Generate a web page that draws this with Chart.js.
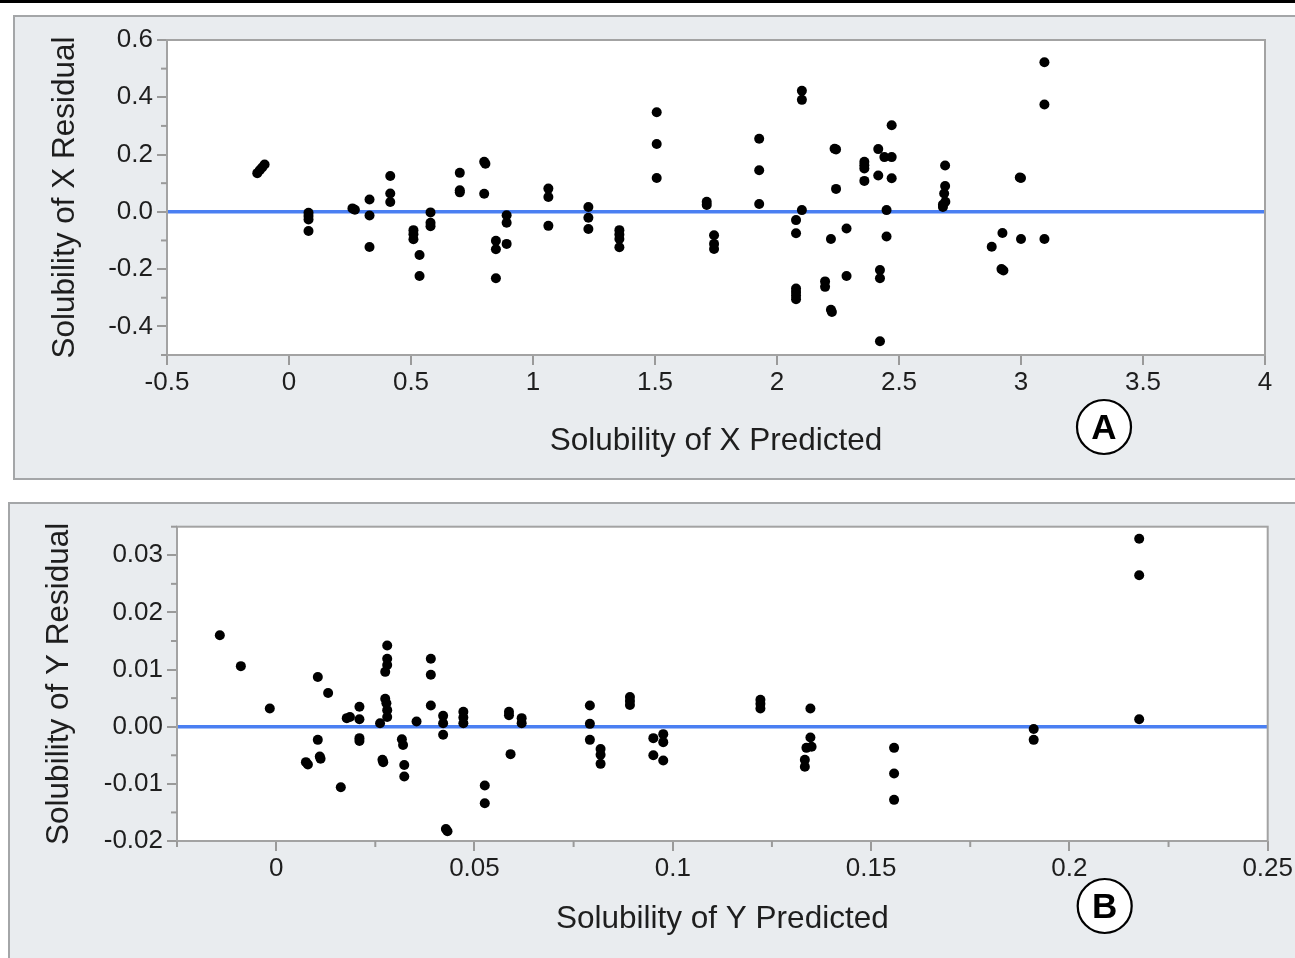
<!DOCTYPE html>
<html><head><meta charset="utf-8">
<script src="https://cdn.jsdelivr.net/npm/chart.js@4"></script>
<style>
html,body{margin:0;padding:0;background:#fff;width:1295px;height:958px;overflow:hidden;position:relative}
#topline{position:absolute;left:0;top:0;width:1295px;height:3px;background:#000}
.panel{position:absolute;background:#e9ecef;border:2px solid #a4a6a8;box-sizing:border-box}
#pA{left:13px;top:15px;width:1300px;height:465px}
#pB{left:8px;top:502px;width:1300px;height:470px}
canvas{position:absolute;left:0}
#cA{top:0}
#cB{top:480px}
</style></head><body>
<div id="topline"></div>
<div class="panel" id="pA"></div>
<div class="panel" id="pB"></div>
<canvas id="cA" width="1295" height="480"></canvas>
<canvas id="cB" width="1295" height="478"></canvas>
<script>
// ---------- DATA: panel A (Solubility of X) ----------
const xPredA = [-0.13,-0.12,-0.11,-0.10, 0.08,0.08,0.08,0.08, 0.26,0.27, 0.33,0.33,0.33,
  0.415,0.415,0.415, 0.51,0.51,0.51,0.535,0.535, 0.58,0.58,0.58, 0.70,0.70,0.70,
  0.80,0.805,0.80, 0.848,0.848,0.848, 0.892,0.892,0.892, 1.063,1.063,1.063,
  1.227,1.227,1.227, 1.354,1.354,1.354,1.354, 1.507,1.507,1.507, 1.712,1.712,
  1.742,1.742,1.742, 1.927,1.927,1.927, 2.078,2.078,2.078,2.078,2.078,2.078,
  2.102,2.102,2.102, 2.197,2.197, 2.221,2.221,2.225, 2.242,2.236,2.242, 2.285,2.285,
  2.358,2.358,2.358,2.358, 2.415,2.415, 2.422,2.422,2.422, 2.44,2.47,2.47,2.449,2.449,2.47,
  2.689,2.689,2.685,2.69,2.68,2.68, 2.88, 2.924,2.92,2.928, 3.0,2.995,3.0, 3.096,3.096,3.096];
const yResA = [0.135,0.145,0.155,0.165, -0.003,-0.015,-0.027,-0.067, 0.012,0.007, 0.043,-0.013,-0.123,
  0.125,0.064,0.034, -0.064,-0.078,-0.096,-0.151,-0.224, -0.002,-0.038,-0.05, 0.136,0.075,0.068,
  0.175,0.168,0.063, -0.101,-0.131,-0.232, -0.012,-0.038,-0.112, 0.081,0.052,-0.049,
  0.017,-0.021,-0.06, -0.064,-0.079,-0.095,-0.124, 0.348,0.237,0.118, 0.035,0.024,
  -0.082,-0.112,-0.13, 0.255,0.145,0.027, -0.029,-0.075,-0.268,-0.28,-0.292,-0.305,
  0.423,0.391,0.006, -0.243,-0.262, -0.095,-0.342,-0.35, 0.218,0.22,0.08, -0.058,-0.224,
  0.175,0.163,0.151,0.108, 0.219,0.127, -0.203,-0.232,-0.452, 0.191,0.191,0.117,0.006,-0.086,0.302,
  0.162,0.09,0.064,0.035,0.025,0.017, -0.122, -0.074,-0.2,-0.205, 0.118,0.12,-0.095, 0.522,0.375,-0.095];
const xRangeA = [-0.5, 4];
const yRangeA = [-0.5, 0.6];
const xTicksA = [-0.5,0,0.5,1,1.5,2,2.5,3,3.5,4];
const xTickLabelsA = ['-0.5','0','0.5','1','1.5','2','2.5','3','3.5','4'];
const yTicksA = [-0.4,-0.2,0,0.2,0.4,0.6];
const yTickLabelsA = ['-0.4','-0.2','0.0','0.2','0.4','0.6'];
const yMinorA = [-0.5,-0.3,-0.1,0.1,0.3,0.5];
const xMinorA = [];

// ---------- DATA: panel B (Solubility of Y) ----------
const xPredB = [-0.0142,-0.0089,-0.0016,0.0075,0.0080,0.0105,0.0105,0.011,0.0112,0.0131,0.0163,
  0.0178,0.0186,0.021,0.021,0.021,0.021,0.0262,0.0268,0.027,
  0.028,0.028,0.028,0.0275,0.0275,0.0278,0.028,0.028, 0.0317,0.032,0.0323,0.0323,0.0354,
  0.039,0.039,0.039, 0.0421,0.0421,0.0421, 0.0428,0.0432, 0.0472,0.0472,0.0472, 0.0526,0.0526,
  0.0587,0.0587,0.0591, 0.0619,0.0619, 0.0791,0.0791,0.0791, 0.0818,0.0818,0.0818,
  0.0892,0.0892,0.0892, 0.0951,0.0951, 0.0976,0.0976,0.0976, 0.1221,0.1221,0.1221,
  0.1347,0.1347,0.1337,0.1350,0.1333,0.1333, 0.1558,0.1558,0.1558, 0.191,0.191, 0.2176,0.2176,0.2176];
const yResB = [0.016,0.0106,0.0032,-0.0062,-0.0066,0.0087,-0.0023,-0.0052,-0.0056,0.0059,-0.0106,
  0.0015,0.0017,0.0035,0.0013,-0.002,-0.0025,0.0006,-0.0058,-0.0062,
  0.0142,0.0119,0.0108,0.0096,0.0049,0.0041,0.0029,0.0017, -0.0022,-0.0032,-0.0067,-0.0087,0.0009,
  0.0119,0.0091,0.0037, 0.0019,0.0006,-0.0014, -0.0179,-0.0183, 0.0026,0.0016,0.0006, -0.0103,-0.0134,
  0.0026,0.002,-0.0048, 0.0015,0.0006, 0.0037,0.0005,-0.0023, -0.0039,-0.0049,-0.0065,
  0.0052,0.0045,0.0038, -0.002,-0.005, -0.0013,-0.0027,-0.0059, 0.0047,0.0040,0.0032,
  0.0032,-0.0019,-0.0037,-0.0035,-0.0058,-0.007, -0.0037,-0.0082,-0.0128, -0.0004,-0.0023, 0.0329,0.0265,0.0013];
const xRangeB = [-0.025, 0.25];
const yRangeB = [-0.02, 0.035];
const xTicksB = [0,0.05,0.1,0.15,0.2,0.25];
const xTickLabelsB = ['0','0.05','0.1','0.15','0.2','0.25'];
const yTicksB = [-0.02,-0.01,0,0.01,0.02,0.03];
const yTickLabelsB = ['-0.02','-0.01','0.00','0.01','0.02','0.03'];
const yMinorB = [-0.015,-0.005,0.005,0.015,0.025,0.035];
const xMinorB = [-0.025,0.025,0.075,0.125,0.175,0.225];

// ---------- rendering ----------
const FONT = "'Liberation Sans', Arial, sans-serif";
const TXT = '#1e1e1e';
const TICKC = '#9a9a9a';

const framePlugin = {
  id: 'frame',
  beforeDraw(chart, args, o) {
    const {ctx, chartArea: a} = chart;
    ctx.save(); ctx.fillStyle = '#fff';
    ctx.fillRect(a.left, a.top, a.right - a.left, a.bottom - a.top);
    ctx.restore();
  },
  afterDraw(chart, args, o) {
    const {ctx, chartArea: a, scales} = chart;
    ctx.save();
    ctx.strokeStyle = '#a3a3a3'; ctx.lineWidth = 2;
    ctx.strokeRect(a.left, a.top, a.right - a.left, a.bottom - a.top);
    ctx.strokeStyle = TICKC; ctx.lineWidth = 2;
    (o.minorY || []).forEach(v => { const y = scales.y.getPixelForValue(v);
      ctx.beginPath(); ctx.moveTo(a.left - 6, y); ctx.lineTo(a.left, y); ctx.stroke(); });
    (o.minorX || []).forEach(v => { const x = scales.x.getPixelForValue(v);
      ctx.beginPath(); ctx.moveTo(x, a.bottom); ctx.lineTo(x, a.bottom + 6); ctx.stroke(); });
    if (o.badge) {
      const cx = a.right + o.badge.dx, cy = a.bottom + o.badge.dy;
      ctx.beginPath(); ctx.arc(cx, cy, 27, 0, Math.PI * 2);
      ctx.fillStyle = '#fff'; ctx.fill();
      ctx.strokeStyle = '#000'; ctx.lineWidth = 2.2; ctx.stroke();
      ctx.fillStyle = '#000'; ctx.font = "bold 35px " + FONT;
      ctx.textAlign = 'center'; ctx.textBaseline = 'middle';
      ctx.fillText(o.badge.text, cx, cy + 2);
    }
    ctx.restore();
  }
};

function makeChart(id, xs, ys, c) {
  const pts = xs.map((x, i) => ({x, y: ys[i]}));
  return new Chart(document.getElementById(id), {
    type: 'scatter',
    data: { datasets: [
      { data: pts, pointRadius: 5, pointHoverRadius: 5, pointBackgroundColor: '#000',
        pointBorderWidth: 0, borderWidth: 0 },
      { data: [{x: c.xr[0], y: 0}, {x: c.xr[1], y: 0}], showLine: true,
        borderColor: '#4a7ff2', borderWidth: 3.5, pointRadius: 0, pointHoverRadius: 0 }
    ]},
    options: {
      responsive: false, animation: false, devicePixelRatio: 1, events: [],
      layout: { padding: c.pad },
      plugins: { legend: {display: false}, tooltip: {enabled: false},
        frame: { minorX: c.minorX, minorY: c.minorY, badge: c.badge } },
      scales: {
        x: { type: 'linear', min: c.xr[0], max: c.xr[1],
          afterBuildTicks: s => { s.ticks = c.xt.map(v => ({value: v})); },
          afterFit: s => { s.height = c.xh; },
          ticks: { callback: (v, i) => c.xl[i], font: {family: FONT, size: 26}, color: TXT,
            padding: c.xpad, maxRotation: 0, autoSkip: false },
          grid: { drawOnChartArea: false, drawTicks: true, tickLength: 10, color: TICKC, lineWidth: 2 },
          border: { display: false },
          title: { display: true, text: c.xtitle, font: {family: FONT, size: 31.5}, color: TXT, padding: 0 }
        },
        y: { type: 'linear', min: c.yr[0], max: c.yr[1],
          afterBuildTicks: s => { s.ticks = c.yt.map(v => ({value: v})); },
          afterFit: s => { s.width = c.yw; },
          ticks: { callback: (v, i) => c.yl[i], font: {family: FONT, size: 26}, color: TXT,
            padding: 4, autoSkip: false },
          grid: { drawOnChartArea: false, drawTicks: true, tickLength: 10, color: TICKC, lineWidth: 2 },
          border: { display: false },
          title: { display: true, text: c.ytitle, font: {family: FONT, size: 31.5}, color: TXT, padding: 0 }
        }
      }
    },
    plugins: [framePlugin]
  });
}

makeChart('cA', xPredA, yResA, {
  xr: xRangeA, yr: yRangeA, xt: xTicksA, xl: xTickLabelsA, yt: yTicksA, yl: yTickLabelsA,
  minorX: xMinorA, minorY: yMinorA,
  xtitle: 'Solubility of X Predicted', ytitle: 'Solubility of X Residual',
  pad: {left: 46.5, right: 30, top: 40, bottom: 20.1}, yw: 120.5, xh: 104.9, xpad: 2,
  badge: {text: 'A', dx: -161, dy: 72}
});
makeChart('cB', xPredB, yResB, {
  xr: xRangeB, yr: yRangeB, xt: xTicksB, xl: xTickLabelsB, yt: yTicksB, yl: yTickLabelsB,
  minorX: xMinorB, minorY: yMinorB,
  xtitle: 'Solubility of Y Predicted', ytitle: 'Solubility of Y Residual',
  pad: {left: 40.5, right: 27, top: 46.7, bottom: 20}, yw: 136.5, xh: 97, xpad: 2,
  badge: {text: 'B', dx: -163, dy: 65}
});
</script>
</body></html>
